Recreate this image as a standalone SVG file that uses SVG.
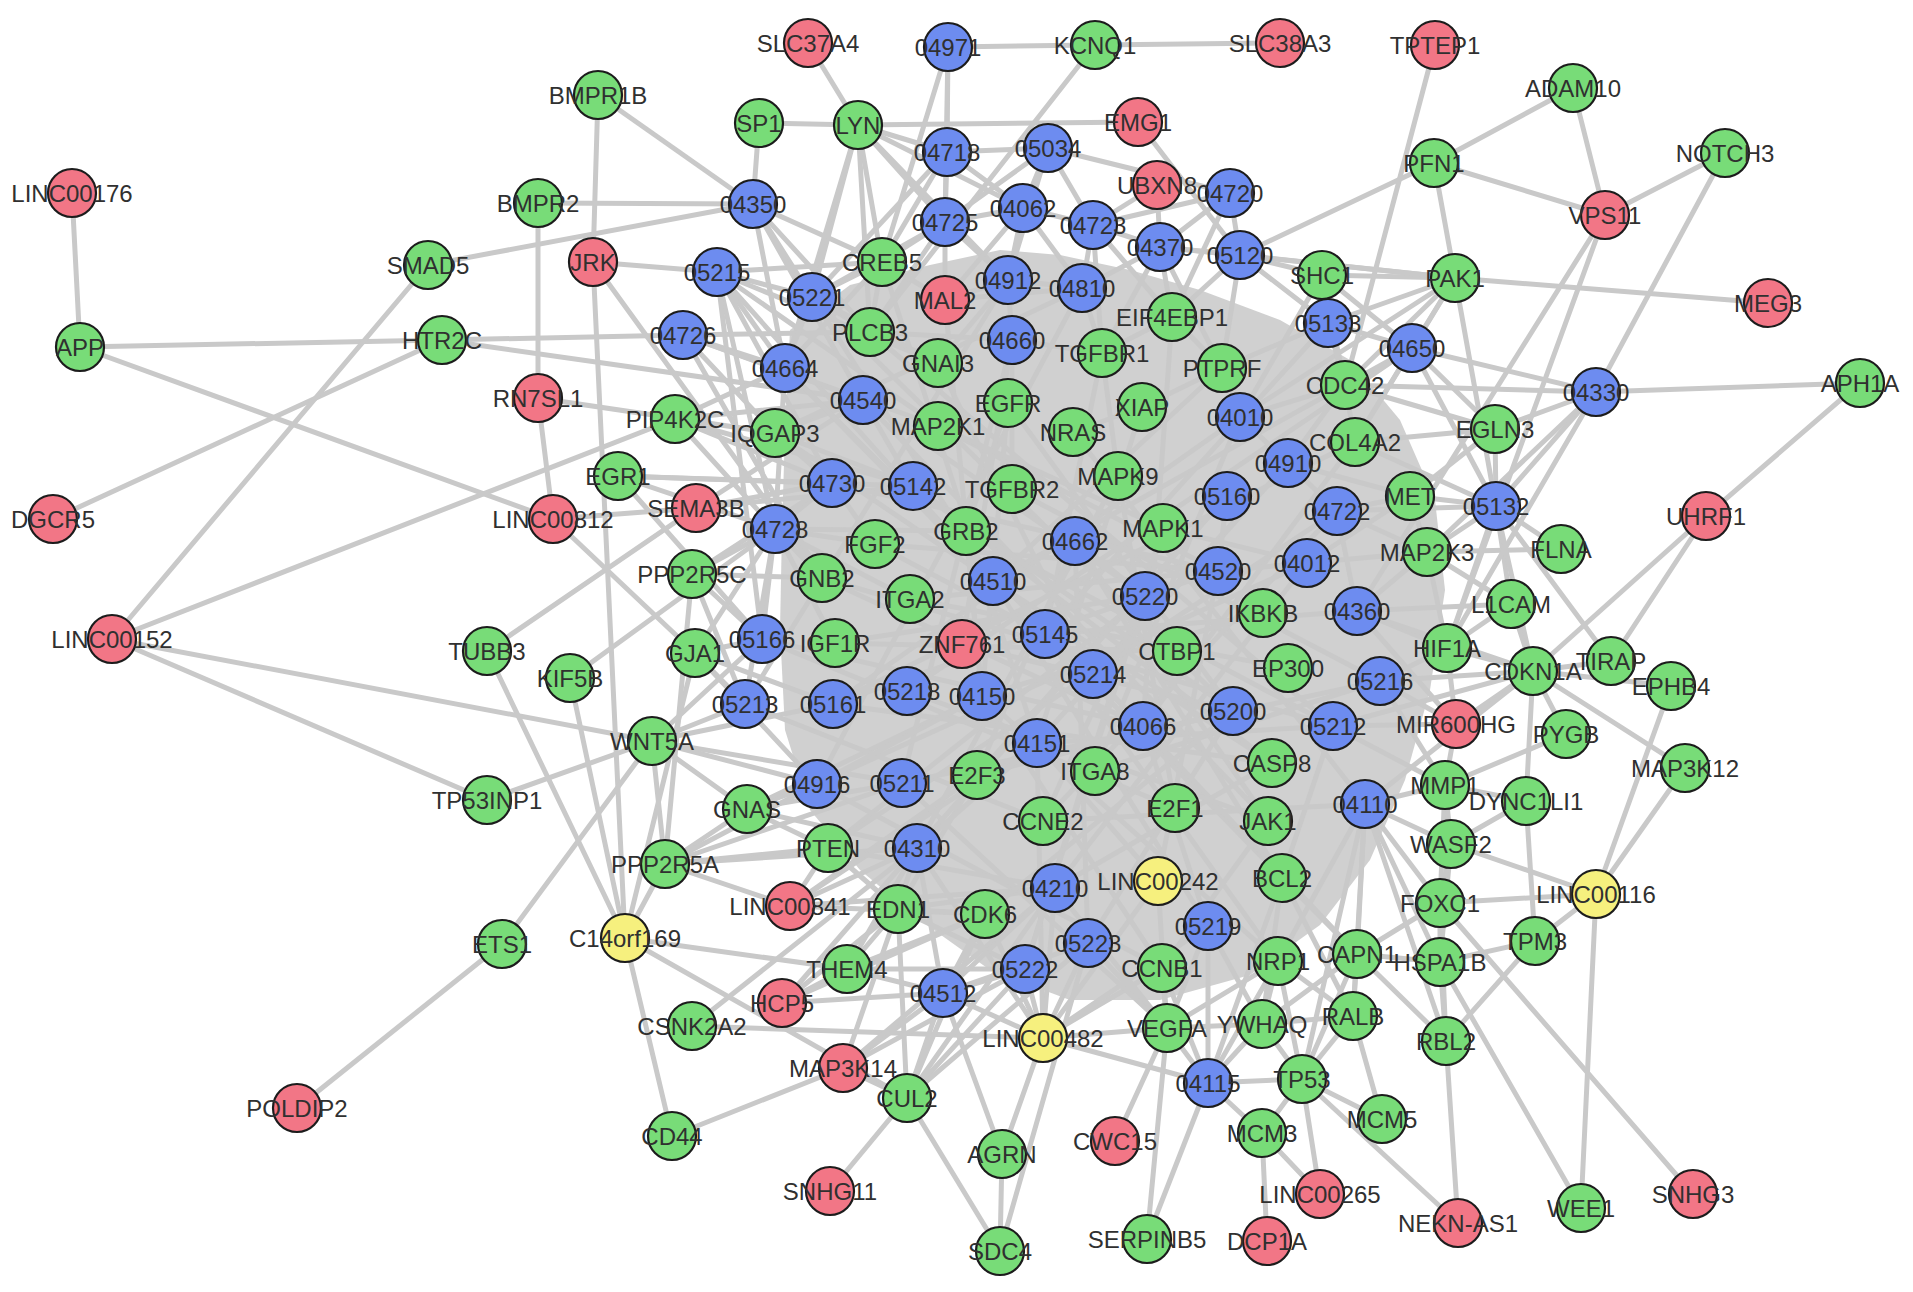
<svg xmlns="http://www.w3.org/2000/svg" width="1913" height="1292" viewBox="0 0 1913 1292">
<style>
.edges line{stroke:#c9c9c9;stroke-width:5;stroke-linecap:round}
.bundle{fill:#d0d0d0}
.node circle{stroke:#1c1c1c;stroke-width:2.2}
.r{fill:#f27686}.g{fill:#78dc78}.b{fill:#6d8cf0}.y{fill:#f6f07e}
.node text{font-family:"Liberation Sans",Arial,sans-serif;font-size:24px;fill:#303030;text-anchor:middle;dominant-baseline:central}
</style>
<rect width="1913" height="1292" fill="#ffffff"/>
<g id="connectors" class="edges">
<path class="bundle" d="M790,330 L850,285 L930,265 L1000,250 L1060,255 L1130,270 L1200,290 L1280,320 L1350,360 L1400,420 L1435,500 L1445,590 L1430,690 L1405,780 L1370,860 L1320,925 L1250,975 L1160,1000 L1070,1000 L990,970 L920,920 L860,870 L810,810 L785,730 L780,630 L782,530 L785,430 Z"/>
<line x1="72" y1="193" x2="80" y2="347"/>
<line x1="80" y1="347" x2="442" y2="340"/>
<line x1="80" y1="347" x2="553" y2="519"/>
<line x1="442" y1="340" x2="53" y2="519"/>
<line x1="442" y1="340" x2="683" y2="335"/>
<line x1="442" y1="340" x2="863" y2="400"/>
<line x1="428" y1="265" x2="753" y2="204"/>
<line x1="428" y1="265" x2="112" y2="639"/>
<line x1="112" y1="639" x2="675" y2="419"/>
<line x1="112" y1="639" x2="652" y2="741"/>
<line x1="112" y1="639" x2="487" y2="800"/>
<line x1="598" y1="95" x2="593" y2="262"/>
<line x1="598" y1="95" x2="753" y2="204"/>
<line x1="538" y1="203" x2="753" y2="204"/>
<line x1="538" y1="203" x2="538" y2="398"/>
<line x1="538" y1="398" x2="553" y2="519"/>
<line x1="538" y1="398" x2="775" y2="433"/>
<line x1="593" y1="262" x2="717" y2="272"/>
<line x1="593" y1="262" x2="822" y2="578"/>
<line x1="593" y1="262" x2="625" y2="938"/>
<line x1="808" y1="43" x2="858" y2="125"/>
<line x1="759" y1="123" x2="858" y2="125"/>
<line x1="759" y1="123" x2="753" y2="204"/>
<line x1="858" y1="125" x2="1138" y2="122"/>
<line x1="948" y1="47" x2="1095" y2="45"/>
<line x1="1095" y1="45" x2="1280" y2="43"/>
<line x1="1095" y1="45" x2="870" y2="332"/>
<line x1="948" y1="47" x2="947" y2="152"/>
<line x1="948" y1="47" x2="882" y2="262"/>
<line x1="948" y1="47" x2="945" y2="222"/>
<line x1="1138" y1="122" x2="1240" y2="255"/>
<line x1="1048" y1="148" x2="1230" y2="193"/>
<line x1="1435" y1="45" x2="1345" y2="385"/>
<line x1="1434" y1="163" x2="1573" y2="88"/>
<line x1="1434" y1="163" x2="1605" y2="215"/>
<line x1="1573" y1="88" x2="1605" y2="215"/>
<line x1="1605" y1="215" x2="1725" y2="153"/>
<line x1="1434" y1="163" x2="1455" y2="278"/>
<line x1="1240" y1="255" x2="1434" y2="163"/>
<line x1="1605" y1="215" x2="1357" y2="611"/>
<line x1="1605" y1="215" x2="1447" y2="648"/>
<line x1="1725" y1="153" x2="1596" y2="392"/>
<line x1="1596" y1="392" x2="1860" y2="383"/>
<line x1="1455" y1="278" x2="1768" y2="303"/>
<line x1="1455" y1="278" x2="1496" y2="506"/>
<line x1="1495" y1="429" x2="1596" y2="392"/>
<line x1="1860" y1="383" x2="1706" y2="516"/>
<line x1="1706" y1="516" x2="1533" y2="671"/>
<line x1="1706" y1="516" x2="1611" y2="661"/>
<line x1="1496" y1="506" x2="1561" y2="549"/>
<line x1="1561" y1="549" x2="1427" y2="552"/>
<line x1="1496" y1="506" x2="1611" y2="661"/>
<line x1="1496" y1="506" x2="1511" y2="604"/>
<line x1="1496" y1="506" x2="1447" y2="648"/>
<line x1="1496" y1="506" x2="1533" y2="671"/>
<line x1="1496" y1="506" x2="1427" y2="552"/>
<line x1="1496" y1="506" x2="1495" y2="429"/>
<line x1="1511" y1="604" x2="1447" y2="648"/>
<line x1="1511" y1="604" x2="1533" y2="671"/>
<line x1="1611" y1="661" x2="1533" y2="671"/>
<line x1="1671" y1="686" x2="1533" y2="671"/>
<line x1="1671" y1="686" x2="1596" y2="894"/>
<line x1="1685" y1="768" x2="1596" y2="894"/>
<line x1="1685" y1="768" x2="1533" y2="671"/>
<line x1="1566" y1="734" x2="1533" y2="671"/>
<line x1="1566" y1="734" x2="1445" y2="785"/>
<line x1="1526" y1="801" x2="1533" y2="671"/>
<line x1="1526" y1="801" x2="1445" y2="785"/>
<line x1="1526" y1="801" x2="1535" y2="941"/>
<line x1="1596" y1="894" x2="1451" y2="844"/>
<line x1="1596" y1="894" x2="1535" y2="941"/>
<line x1="1596" y1="894" x2="1581" y2="1208"/>
<line x1="1596" y1="894" x2="1440" y2="903"/>
<line x1="1535" y1="941" x2="1446" y2="1041"/>
<line x1="1535" y1="941" x2="1440" y2="962"/>
<line x1="1440" y1="903" x2="1693" y2="1194"/>
<line x1="1440" y1="962" x2="1581" y2="1208"/>
<line x1="1440" y1="962" x2="1446" y2="1041"/>
<line x1="1446" y1="1041" x2="1458" y2="1223"/>
<line x1="1302" y1="1079" x2="1458" y2="1223"/>
<line x1="1353" y1="1016" x2="1382" y2="1119"/>
<line x1="1302" y1="1079" x2="1382" y2="1119"/>
<line x1="1302" y1="1079" x2="1320" y2="1194"/>
<line x1="1302" y1="1079" x2="1262" y2="1133"/>
<line x1="1262" y1="1133" x2="1267" y2="1241"/>
<line x1="1262" y1="1133" x2="1320" y2="1194"/>
<line x1="1302" y1="1079" x2="1208" y2="1083"/>
<line x1="1208" y1="1083" x2="1147" y2="1239"/>
<line x1="1147" y1="1239" x2="1167" y2="1028"/>
<line x1="1115" y1="1141" x2="1167" y2="1028"/>
<line x1="1002" y1="1154" x2="1043" y2="1038"/>
<line x1="1002" y1="1154" x2="1000" y2="1251"/>
<line x1="1002" y1="1154" x2="943" y2="993"/>
<line x1="1000" y1="1251" x2="1088" y2="943"/>
<line x1="1000" y1="1251" x2="907" y2="1098"/>
<line x1="830" y1="1191" x2="907" y2="1098"/>
<line x1="672" y1="1136" x2="843" y2="1068"/>
<line x1="672" y1="1136" x2="625" y2="938"/>
<line x1="625" y1="938" x2="907" y2="1098"/>
<line x1="625" y1="938" x2="847" y2="969"/>
<line x1="625" y1="938" x2="665" y2="864"/>
<line x1="625" y1="938" x2="487" y2="651"/>
<line x1="625" y1="938" x2="570" y2="678"/>
<line x1="625" y1="938" x2="695" y2="653"/>
<line x1="502" y1="944" x2="652" y2="741"/>
<line x1="297" y1="1108" x2="502" y2="944"/>
<line x1="692" y1="1026" x2="1043" y2="1038"/>
<line x1="692" y1="1026" x2="917" y2="848"/>
<line x1="782" y1="1003" x2="847" y2="969"/>
<line x1="665" y1="864" x2="790" y2="906"/>
<line x1="898" y1="909" x2="907" y2="1098"/>
<line x1="847" y1="969" x2="943" y2="993"/>
<line x1="747" y1="809" x2="665" y2="864"/>
<line x1="652" y1="741" x2="665" y2="864"/>
<line x1="652" y1="741" x2="745" y2="704"/>
<line x1="652" y1="741" x2="817" y2="784"/>
<line x1="652" y1="741" x2="487" y2="800"/>
<line x1="487" y1="651" x2="696" y2="508"/>
<line x1="570" y1="678" x2="775" y2="529"/>
<line x1="692" y1="574" x2="665" y2="864"/>
<line x1="692" y1="574" x2="775" y2="529"/>
<line x1="553" y1="519" x2="695" y2="653"/>
<line x1="553" y1="519" x2="696" y2="508"/>
<line x1="618" y1="476" x2="775" y2="529"/>
<line x1="717" y1="272" x2="882" y2="262"/>
<line x1="843" y1="1068" x2="907" y2="1098"/>
<line x1="753" y1="204" x2="882" y2="262"/>
<line x1="753" y1="204" x2="812" y2="297"/>
<line x1="753" y1="204" x2="785" y2="368"/>
<line x1="753" y1="204" x2="870" y2="332"/>
<line x1="753" y1="204" x2="863" y2="400"/>
<line x1="858" y1="125" x2="947" y2="152"/>
<line x1="858" y1="125" x2="945" y2="222"/>
<line x1="858" y1="125" x2="812" y2="297"/>
<line x1="858" y1="125" x2="882" y2="262"/>
<line x1="858" y1="125" x2="785" y2="368"/>
<line x1="858" y1="125" x2="1023" y2="208"/>
<line x1="858" y1="125" x2="870" y2="332"/>
<line x1="858" y1="125" x2="1008" y2="280"/>
<line x1="717" y1="272" x2="812" y2="297"/>
<line x1="717" y1="272" x2="785" y2="368"/>
<line x1="717" y1="272" x2="832" y2="483"/>
<line x1="717" y1="272" x2="775" y2="529"/>
<line x1="717" y1="272" x2="762" y2="639"/>
<line x1="717" y1="272" x2="938" y2="426"/>
<line x1="717" y1="272" x2="938" y2="363"/>
<line x1="717" y1="272" x2="993" y2="581"/>
<line x1="683" y1="335" x2="785" y2="368"/>
<line x1="683" y1="335" x2="775" y2="433"/>
<line x1="683" y1="335" x2="870" y2="332"/>
<line x1="683" y1="335" x2="863" y2="400"/>
<line x1="683" y1="335" x2="938" y2="426"/>
<line x1="683" y1="335" x2="822" y2="578"/>
<line x1="675" y1="419" x2="785" y2="368"/>
<line x1="675" y1="419" x2="863" y2="400"/>
<line x1="675" y1="419" x2="832" y2="483"/>
<line x1="675" y1="419" x2="913" y2="486"/>
<line x1="675" y1="419" x2="775" y2="529"/>
<line x1="775" y1="433" x2="832" y2="483"/>
<line x1="775" y1="433" x2="913" y2="486"/>
<line x1="775" y1="433" x2="863" y2="400"/>
<line x1="775" y1="433" x2="993" y2="581"/>
<line x1="775" y1="433" x2="1082" y2="288"/>
<line x1="618" y1="476" x2="832" y2="483"/>
<line x1="618" y1="476" x2="913" y2="486"/>
<line x1="618" y1="476" x2="762" y2="639"/>
<line x1="696" y1="508" x2="832" y2="483"/>
<line x1="696" y1="508" x2="913" y2="486"/>
<line x1="696" y1="508" x2="863" y2="400"/>
<line x1="775" y1="529" x2="875" y2="544"/>
<line x1="775" y1="529" x2="822" y2="578"/>
<line x1="775" y1="529" x2="695" y2="653"/>
<line x1="775" y1="529" x2="762" y2="639"/>
<line x1="775" y1="529" x2="745" y2="704"/>
<line x1="775" y1="529" x2="835" y2="643"/>
<line x1="775" y1="529" x2="910" y2="599"/>
<line x1="775" y1="529" x2="966" y2="531"/>
<line x1="775" y1="529" x2="832" y2="483"/>
<line x1="775" y1="529" x2="785" y2="368"/>
<line x1="692" y1="574" x2="762" y2="639"/>
<line x1="692" y1="574" x2="745" y2="704"/>
<line x1="692" y1="574" x2="822" y2="578"/>
<line x1="692" y1="574" x2="832" y2="483"/>
<line x1="695" y1="653" x2="762" y2="639"/>
<line x1="695" y1="653" x2="745" y2="704"/>
<line x1="695" y1="653" x2="817" y2="784"/>
<line x1="695" y1="653" x2="833" y2="704"/>
<line x1="652" y1="741" x2="762" y2="639"/>
<line x1="652" y1="741" x2="747" y2="809"/>
<line x1="652" y1="741" x2="833" y2="704"/>
<line x1="652" y1="741" x2="902" y2="783"/>
<line x1="747" y1="809" x2="817" y2="784"/>
<line x1="747" y1="809" x2="902" y2="783"/>
<line x1="747" y1="809" x2="917" y2="848"/>
<line x1="747" y1="809" x2="828" y2="848"/>
<line x1="747" y1="809" x2="982" y2="696"/>
<line x1="665" y1="864" x2="817" y2="784"/>
<line x1="665" y1="864" x2="828" y2="848"/>
<line x1="665" y1="864" x2="917" y2="848"/>
<line x1="665" y1="864" x2="902" y2="783"/>
<line x1="790" y1="906" x2="917" y2="848"/>
<line x1="790" y1="906" x2="828" y2="848"/>
<line x1="790" y1="906" x2="985" y2="914"/>
<line x1="790" y1="906" x2="1055" y2="888"/>
<line x1="790" y1="906" x2="977" y2="775"/>
<line x1="790" y1="906" x2="1037" y2="743"/>
<line x1="898" y1="909" x2="917" y2="848"/>
<line x1="898" y1="909" x2="985" y2="914"/>
<line x1="898" y1="909" x2="1055" y2="888"/>
<line x1="898" y1="909" x2="1025" y2="969"/>
<line x1="898" y1="909" x2="977" y2="775"/>
<line x1="898" y1="909" x2="828" y2="848"/>
<line x1="847" y1="969" x2="898" y2="909"/>
<line x1="847" y1="969" x2="1025" y2="969"/>
<line x1="847" y1="969" x2="985" y2="914"/>
<line x1="847" y1="969" x2="917" y2="848"/>
<line x1="782" y1="1003" x2="917" y2="848"/>
<line x1="782" y1="1003" x2="898" y2="909"/>
<line x1="782" y1="1003" x2="943" y2="993"/>
<line x1="782" y1="1003" x2="985" y2="914"/>
<line x1="843" y1="1068" x2="943" y2="993"/>
<line x1="843" y1="1068" x2="1025" y2="969"/>
<line x1="843" y1="1068" x2="898" y2="909"/>
<line x1="843" y1="1068" x2="1055" y2="888"/>
<line x1="907" y1="1098" x2="943" y2="993"/>
<line x1="907" y1="1098" x2="1025" y2="969"/>
<line x1="907" y1="1098" x2="1055" y2="888"/>
<line x1="907" y1="1098" x2="1088" y2="943"/>
<line x1="907" y1="1098" x2="985" y2="914"/>
<line x1="943" y1="993" x2="985" y2="914"/>
<line x1="943" y1="993" x2="1025" y2="969"/>
<line x1="943" y1="993" x2="1088" y2="943"/>
<line x1="943" y1="993" x2="1055" y2="888"/>
<line x1="943" y1="993" x2="917" y2="848"/>
<line x1="943" y1="993" x2="1043" y2="1038"/>
<line x1="1043" y1="1038" x2="1025" y2="969"/>
<line x1="1043" y1="1038" x2="1088" y2="943"/>
<line x1="1043" y1="1038" x2="1055" y2="888"/>
<line x1="1043" y1="1038" x2="1162" y2="968"/>
<line x1="1043" y1="1038" x2="1167" y2="1028"/>
<line x1="1043" y1="1038" x2="1208" y2="926"/>
<line x1="1043" y1="1038" x2="1158" y2="881"/>
<line x1="1043" y1="1038" x2="1208" y2="1083"/>
<line x1="1043" y1="1038" x2="985" y2="914"/>
<line x1="1043" y1="1038" x2="917" y2="848"/>
<line x1="1043" y1="1038" x2="1037" y2="743"/>
<line x1="1208" y1="1083" x2="1167" y2="1028"/>
<line x1="1208" y1="1083" x2="1162" y2="968"/>
<line x1="1208" y1="1083" x2="1208" y2="926"/>
<line x1="1208" y1="1083" x2="1262" y2="1024"/>
<line x1="1208" y1="1083" x2="1278" y2="961"/>
<line x1="1208" y1="1083" x2="1282" y2="878"/>
<line x1="1208" y1="1083" x2="1262" y2="1133"/>
<line x1="1167" y1="1028" x2="1208" y2="926"/>
<line x1="1167" y1="1028" x2="1162" y2="968"/>
<line x1="1167" y1="1028" x2="1088" y2="943"/>
<line x1="1167" y1="1028" x2="1278" y2="961"/>
<line x1="1167" y1="1028" x2="1262" y2="1024"/>
<line x1="1167" y1="1028" x2="1055" y2="888"/>
<line x1="1167" y1="1028" x2="1158" y2="881"/>
<line x1="1262" y1="1024" x2="1208" y2="926"/>
<line x1="1262" y1="1024" x2="1278" y2="961"/>
<line x1="1262" y1="1024" x2="1282" y2="878"/>
<line x1="1262" y1="1024" x2="1357" y2="954"/>
<line x1="1262" y1="1024" x2="1353" y2="1016"/>
<line x1="1262" y1="1024" x2="1302" y2="1079"/>
<line x1="1353" y1="1016" x2="1357" y2="954"/>
<line x1="1353" y1="1016" x2="1278" y2="961"/>
<line x1="1353" y1="1016" x2="1282" y2="878"/>
<line x1="1353" y1="1016" x2="1365" y2="804"/>
<line x1="1302" y1="1079" x2="1278" y2="961"/>
<line x1="1302" y1="1079" x2="1353" y2="1016"/>
<line x1="1302" y1="1079" x2="1357" y2="954"/>
<line x1="1302" y1="1079" x2="1365" y2="804"/>
<line x1="1357" y1="954" x2="1365" y2="804"/>
<line x1="1357" y1="954" x2="1440" y2="962"/>
<line x1="1357" y1="954" x2="1282" y2="878"/>
<line x1="1357" y1="954" x2="1440" y2="903"/>
<line x1="1440" y1="962" x2="1440" y2="903"/>
<line x1="1440" y1="962" x2="1365" y2="804"/>
<line x1="1440" y1="962" x2="1451" y2="844"/>
<line x1="1446" y1="1041" x2="1357" y2="954"/>
<line x1="1446" y1="1041" x2="1440" y2="903"/>
<line x1="1446" y1="1041" x2="1365" y2="804"/>
<line x1="1440" y1="903" x2="1451" y2="844"/>
<line x1="1440" y1="903" x2="1365" y2="804"/>
<line x1="1440" y1="903" x2="1445" y2="785"/>
<line x1="1451" y1="844" x2="1445" y2="785"/>
<line x1="1451" y1="844" x2="1365" y2="804"/>
<line x1="1451" y1="844" x2="1526" y2="801"/>
<line x1="1445" y1="785" x2="1365" y2="804"/>
<line x1="1445" y1="785" x2="1333" y2="726"/>
<line x1="1445" y1="785" x2="1456" y2="724"/>
<line x1="1445" y1="785" x2="1380" y2="681"/>
<line x1="1456" y1="724" x2="1380" y2="681"/>
<line x1="1456" y1="724" x2="1333" y2="726"/>
<line x1="1456" y1="724" x2="1357" y2="611"/>
<line x1="1456" y1="724" x2="1447" y2="648"/>
<line x1="1456" y1="724" x2="1533" y2="671"/>
<line x1="1447" y1="648" x2="1357" y2="611"/>
<line x1="1447" y1="648" x2="1380" y2="681"/>
<line x1="1447" y1="648" x2="1427" y2="552"/>
<line x1="1447" y1="648" x2="1533" y2="671"/>
<line x1="1533" y1="671" x2="1380" y2="681"/>
<line x1="1533" y1="671" x2="1357" y2="611"/>
<line x1="1533" y1="671" x2="1365" y2="804"/>
<line x1="1533" y1="671" x2="1333" y2="726"/>
<line x1="1511" y1="604" x2="1357" y2="611"/>
<line x1="1511" y1="604" x2="1427" y2="552"/>
<line x1="1427" y1="552" x2="1337" y2="511"/>
<line x1="1427" y1="552" x2="1357" y2="611"/>
<line x1="1427" y1="552" x2="1307" y2="563"/>
<line x1="1427" y1="552" x2="1410" y2="496"/>
<line x1="1410" y1="496" x2="1337" y2="511"/>
<line x1="1410" y1="496" x2="1288" y2="463"/>
<line x1="1410" y1="496" x2="1496" y2="506"/>
<line x1="1410" y1="496" x2="1307" y2="563"/>
<line x1="1496" y1="506" x2="1337" y2="511"/>
<line x1="1496" y1="506" x2="1412" y2="348"/>
<line x1="1496" y1="506" x2="1355" y2="442"/>
<line x1="1495" y1="429" x2="1412" y2="348"/>
<line x1="1495" y1="429" x2="1355" y2="442"/>
<line x1="1495" y1="429" x2="1410" y2="496"/>
<line x1="1495" y1="429" x2="1345" y2="385"/>
<line x1="1596" y1="392" x2="1412" y2="348"/>
<line x1="1596" y1="392" x2="1496" y2="506"/>
<line x1="1596" y1="392" x2="1447" y2="648"/>
<line x1="1596" y1="392" x2="1427" y2="552"/>
<line x1="1596" y1="392" x2="1345" y2="385"/>
<line x1="1455" y1="278" x2="1412" y2="348"/>
<line x1="1455" y1="278" x2="1328" y2="323"/>
<line x1="1455" y1="278" x2="1345" y2="385"/>
<line x1="1455" y1="278" x2="1240" y2="255"/>
<line x1="1455" y1="278" x2="1322" y2="275"/>
<line x1="1455" y1="278" x2="1355" y2="442"/>
<line x1="1455" y1="278" x2="1240" y2="417"/>
<line x1="1455" y1="278" x2="1160" y2="247"/>
<line x1="1322" y1="275" x2="1240" y2="255"/>
<line x1="1322" y1="275" x2="1328" y2="323"/>
<line x1="1322" y1="275" x2="1412" y2="348"/>
<line x1="1322" y1="275" x2="1345" y2="385"/>
<line x1="1322" y1="275" x2="1240" y2="417"/>
<line x1="1240" y1="255" x2="1160" y2="247"/>
<line x1="1240" y1="255" x2="1328" y2="323"/>
<line x1="1240" y1="255" x2="1222" y2="368"/>
<line x1="1240" y1="255" x2="1230" y2="193"/>
<line x1="1240" y1="255" x2="1172" y2="317"/>
<line x1="1230" y1="193" x2="1160" y2="247"/>
<line x1="1230" y1="193" x2="1093" y2="225"/>
<line x1="1230" y1="193" x2="1172" y2="317"/>
<line x1="1157" y1="185" x2="1160" y2="247"/>
<line x1="1157" y1="185" x2="1093" y2="225"/>
<line x1="1048" y1="148" x2="1023" y2="208"/>
<line x1="1048" y1="148" x2="1093" y2="225"/>
<line x1="1048" y1="148" x2="945" y2="222"/>
<line x1="1048" y1="148" x2="947" y2="152"/>
<line x1="1048" y1="148" x2="1008" y2="280"/>
<line x1="947" y1="152" x2="945" y2="222"/>
<line x1="947" y1="152" x2="1023" y2="208"/>
<line x1="947" y1="152" x2="882" y2="262"/>
<line x1="947" y1="152" x2="812" y2="297"/>
<line x1="945" y1="222" x2="1008" y2="280"/>
<line x1="945" y1="222" x2="882" y2="262"/>
<line x1="945" y1="222" x2="812" y2="297"/>
<line x1="945" y1="222" x2="945" y2="300"/>
<line x1="945" y1="222" x2="1023" y2="208"/>
<line x1="945" y1="222" x2="870" y2="332"/>
<line x1="1023" y1="208" x2="1008" y2="280"/>
<line x1="1023" y1="208" x2="1093" y2="225"/>
<line x1="1023" y1="208" x2="1082" y2="288"/>
<line x1="1023" y1="208" x2="945" y2="300"/>
<line x1="1093" y1="225" x2="1160" y2="247"/>
<line x1="1093" y1="225" x2="1082" y2="288"/>
<line x1="1093" y1="225" x2="1102" y2="353"/>
<line x1="1093" y1="225" x2="1172" y2="317"/>
<line x1="1160" y1="247" x2="1172" y2="317"/>
<line x1="1160" y1="247" x2="1082" y2="288"/>
<line x1="1160" y1="247" x2="1102" y2="353"/>
<line x1="1160" y1="247" x2="1222" y2="368"/>
<line x1="882" y1="262" x2="812" y2="297"/>
<line x1="882" y1="262" x2="870" y2="332"/>
<line x1="882" y1="262" x2="945" y2="300"/>
<line x1="882" y1="262" x2="785" y2="368"/>
<line x1="812" y1="297" x2="785" y2="368"/>
<line x1="812" y1="297" x2="870" y2="332"/>
<line x1="812" y1="297" x2="938" y2="363"/>
<line x1="1008" y1="280" x2="1082" y2="288"/>
<line x1="1082" y1="288" x2="1102" y2="353"/>
<line x1="1012" y1="340" x2="1102" y2="353"/>
<line x1="1008" y1="280" x2="1012" y2="340"/>
<line x1="945" y1="300" x2="1008" y2="280"/>
<line x1="1172" y1="317" x2="1102" y2="353"/>
<line x1="1222" y1="368" x2="1172" y2="317"/>
<line x1="1328" y1="323" x2="1222" y2="368"/>
<line x1="1328" y1="323" x2="1345" y2="385"/>
<line x1="1412" y1="348" x2="1345" y2="385"/>
<line x1="1412" y1="348" x2="1328" y2="323"/>
<line x1="1142" y1="407" x2="1222" y2="368"/>
<line x1="1240" y1="417" x2="1222" y2="368"/>
<line x1="1240" y1="417" x2="1345" y2="385"/>
<line x1="1355" y1="442" x2="1345" y2="385"/>
<line x1="1355" y1="442" x2="1412" y2="348"/>
<line x1="945" y1="300" x2="1082" y2="288"/>
<line x1="870" y1="332" x2="1012" y2="340"/>
<line x1="938" y1="363" x2="1008" y2="280"/>
<line x1="812" y1="297" x2="993" y2="581"/>
<line x1="812" y1="297" x2="1233" y2="711"/>
<line x1="882" y1="262" x2="1037" y2="743"/>
<line x1="870" y1="332" x2="1333" y2="726"/>
<line x1="785" y1="368" x2="1143" y2="726"/>
<line x1="945" y1="300" x2="982" y2="696"/>
<line x1="1008" y1="280" x2="745" y2="704"/>
<line x1="1082" y1="288" x2="817" y2="784"/>
<line x1="1012" y1="340" x2="902" y2="783"/>
<line x1="1008" y1="403" x2="1233" y2="711"/>
<line x1="1102" y1="353" x2="1045" y2="634"/>
<line x1="1073" y1="432" x2="1365" y2="804"/>
<line x1="1142" y1="407" x2="1037" y2="743"/>
<line x1="1240" y1="417" x2="833" y2="704"/>
<line x1="1345" y1="385" x2="993" y2="581"/>
<line x1="1355" y1="442" x2="1143" y2="726"/>
<line x1="1288" y1="463" x2="1093" y2="674"/>
<line x1="1012" y1="489" x2="1380" y2="681"/>
<line x1="1118" y1="476" x2="917" y2="848"/>
<line x1="1227" y1="496" x2="977" y2="775"/>
<line x1="1337" y1="511" x2="1043" y2="821"/>
<line x1="1163" y1="528" x2="1025" y2="969"/>
<line x1="966" y1="531" x2="1333" y2="726"/>
<line x1="875" y1="544" x2="1218" y2="571"/>
<line x1="1075" y1="541" x2="1268" y2="821"/>
<line x1="1307" y1="563" x2="817" y2="784"/>
<line x1="1218" y1="571" x2="833" y2="704"/>
<line x1="993" y1="581" x2="1272" y2="763"/>
<line x1="1145" y1="596" x2="828" y2="848"/>
<line x1="1263" y1="613" x2="982" y2="696"/>
<line x1="1357" y1="611" x2="1045" y2="634"/>
<line x1="1045" y1="634" x2="1282" y2="878"/>
<line x1="1177" y1="651" x2="835" y2="643"/>
<line x1="1288" y1="668" x2="910" y2="599"/>
<line x1="1380" y1="681" x2="1095" y2="771"/>
<line x1="1093" y1="674" x2="1357" y2="954"/>
<line x1="982" y1="696" x2="1278" y2="961"/>
<line x1="1233" y1="711" x2="977" y2="775"/>
<line x1="1143" y1="726" x2="822" y2="578"/>
<line x1="1333" y1="726" x2="1037" y2="743"/>
<line x1="1037" y1="743" x2="1158" y2="881"/>
<line x1="817" y1="784" x2="1162" y2="968"/>
<line x1="902" y1="783" x2="1167" y2="1028"/>
<line x1="1365" y1="804" x2="1043" y2="821"/>
<line x1="1175" y1="808" x2="762" y2="639"/>
<line x1="1043" y1="821" x2="1145" y2="596"/>
<line x1="1268" y1="821" x2="863" y2="400"/>
<line x1="828" y1="848" x2="1337" y2="511"/>
<line x1="917" y1="848" x2="1227" y2="496"/>
<line x1="1055" y1="888" x2="1307" y2="563"/>
<line x1="1208" y1="926" x2="993" y2="581"/>
<line x1="1088" y1="943" x2="1075" y2="541"/>
<line x1="1025" y1="969" x2="1145" y2="596"/>
<line x1="985" y1="914" x2="1233" y2="711"/>
<line x1="1158" y1="881" x2="1218" y2="571"/>
<line x1="1282" y1="878" x2="1075" y2="541"/>
<line x1="1278" y1="961" x2="1045" y2="634"/>
<line x1="1162" y1="968" x2="982" y2="696"/>
<line x1="962" y1="644" x2="1233" y2="711"/>
<line x1="962" y1="644" x2="1012" y2="340"/>
<line x1="1095" y1="771" x2="1240" y2="417"/>
<line x1="977" y1="775" x2="1075" y2="541"/>
<line x1="1272" y1="763" x2="913" y2="486"/>
<line x1="1268" y1="821" x2="907" y2="691"/>
<line x1="938" y1="363" x2="1093" y2="674"/>
<line x1="938" y1="426" x2="1218" y2="571"/>
<line x1="1008" y1="403" x2="982" y2="696"/>
<line x1="1222" y1="368" x2="993" y2="581"/>
<line x1="1172" y1="317" x2="1143" y2="726"/>
<line x1="1328" y1="323" x2="1045" y2="634"/>
<line x1="1412" y1="348" x2="907" y2="691"/>
<line x1="1355" y1="442" x2="833" y2="704"/>
<line x1="1288" y1="463" x2="1037" y2="743"/>
<line x1="1118" y1="476" x2="1175" y2="808"/>
<line x1="832" y1="483" x2="1218" y2="571"/>
<line x1="913" y1="486" x2="1233" y2="711"/>
<line x1="863" y1="400" x2="1145" y2="596"/>
<line x1="785" y1="368" x2="993" y2="581"/>
<line x1="822" y1="578" x2="1333" y2="726"/>
<line x1="835" y1="643" x2="1145" y2="596"/>
<line x1="762" y1="639" x2="1143" y2="726"/>
<line x1="745" y1="704" x2="1043" y2="821"/>
<line x1="833" y1="704" x2="1272" y2="763"/>
<line x1="817" y1="784" x2="982" y2="696"/>
<line x1="902" y1="783" x2="1380" y2="681"/>
<line x1="917" y1="848" x2="1037" y2="743"/>
<line x1="828" y1="848" x2="1055" y2="888"/>
<line x1="1055" y1="888" x2="1272" y2="763"/>
<line x1="1208" y1="926" x2="1143" y2="726"/>
<line x1="1088" y1="943" x2="1233" y2="711"/>
<line x1="1162" y1="968" x2="1268" y2="821"/>
<line x1="1282" y1="878" x2="1333" y2="726"/>
<line x1="1278" y1="961" x2="1365" y2="804"/>
<line x1="910" y1="599" x2="1307" y2="563"/>
<line x1="875" y1="544" x2="1045" y2="634"/>
<line x1="966" y1="531" x2="982" y2="696"/>
<line x1="1075" y1="541" x2="1145" y2="596"/>
<line x1="1163" y1="528" x2="1307" y2="563"/>
<line x1="1337" y1="511" x2="1357" y2="611"/>
<line x1="1288" y1="463" x2="1337" y2="511"/>
<line x1="1227" y1="496" x2="1218" y2="571"/>
<line x1="1240" y1="417" x2="1288" y2="463"/>
<line x1="1345" y1="385" x2="1288" y2="463"/>
<line x1="1142" y1="407" x2="1073" y2="432"/>
<line x1="1102" y1="353" x2="1118" y2="476"/>
<line x1="1012" y1="340" x2="1012" y2="489"/>
<line x1="1008" y1="403" x2="966" y2="531"/>
<line x1="938" y1="426" x2="1163" y2="528"/>
<line x1="863" y1="400" x2="913" y2="486"/>
<line x1="832" y1="483" x2="875" y2="544"/>
</g>
<g id="nodes">
<g id="n-SLC37A4" class="node"><circle class="r" cx="808" cy="43" r="24"/><text x="808" y="43">SLC37A4</text></g>
<g id="n-SLC38A3" class="node"><circle class="r" cx="1280" cy="43" r="24"/><text x="1280" y="43">SLC38A3</text></g>
<g id="n-TPTEP1" class="node"><circle class="r" cx="1435" cy="45" r="24"/><text x="1435" y="45">TPTEP1</text></g>
<g id="n-EMG1" class="node"><circle class="r" cx="1138" cy="122" r="24"/><text x="1138" y="122">EMG1</text></g>
<g id="n-UBXN8" class="node"><circle class="r" cx="1157" cy="185" r="24"/><text x="1157" y="185">UBXN8</text></g>
<g id="n-VPS11" class="node"><circle class="r" cx="1605" cy="215" r="24"/><text x="1605" y="215">VPS11</text></g>
<g id="n-LINC00176" class="node"><circle class="r" cx="72" cy="193" r="24"/><text x="72" y="193">LINC00176</text></g>
<g id="n-JRK" class="node"><circle class="r" cx="593" cy="262" r="24"/><text x="593" y="262">JRK</text></g>
<g id="n-MAL2" class="node"><circle class="r" cx="945" cy="300" r="24"/><text x="945" y="300">MAL2</text></g>
<g id="n-MEG3" class="node"><circle class="r" cx="1768" cy="303" r="24"/><text x="1768" y="303">MEG3</text></g>
<g id="n-RN7SL1" class="node"><circle class="r" cx="538" cy="398" r="24"/><text x="538" y="398">RN7SL1</text></g>
<g id="n-DGCR5" class="node"><circle class="r" cx="53" cy="519" r="24"/><text x="53" y="519">DGCR5</text></g>
<g id="n-LINC00812" class="node"><circle class="r" cx="553" cy="519" r="24"/><text x="553" y="519">LINC00812</text></g>
<g id="n-SEMA3B" class="node"><circle class="r" cx="696" cy="508" r="24"/><text x="696" y="508">SEMA3B</text></g>
<g id="n-UHRF1" class="node"><circle class="r" cx="1706" cy="516" r="24"/><text x="1706" y="516">UHRF1</text></g>
<g id="n-LINC00152" class="node"><circle class="r" cx="112" cy="639" r="24"/><text x="112" y="639">LINC00152</text></g>
<g id="n-ZNF761" class="node"><circle class="r" cx="962" cy="644" r="24"/><text x="962" y="644">ZNF761</text></g>
<g id="n-MIR600HG" class="node"><circle class="r" cx="1456" cy="724" r="24"/><text x="1456" y="724">MIR600HG</text></g>
<g id="n-LINC00841" class="node"><circle class="r" cx="790" cy="906" r="24"/><text x="790" y="906">LINC00841</text></g>
<g id="n-HCP5" class="node"><circle class="r" cx="782" cy="1003" r="24"/><text x="782" y="1003">HCP5</text></g>
<g id="n-MAP3K14" class="node"><circle class="r" cx="843" cy="1068" r="24"/><text x="843" y="1068">MAP3K14</text></g>
<g id="n-POLDIP2" class="node"><circle class="r" cx="297" cy="1108" r="24"/><text x="297" y="1108">POLDIP2</text></g>
<g id="n-CWC15" class="node"><circle class="r" cx="1115" cy="1141" r="24"/><text x="1115" y="1141">CWC15</text></g>
<g id="n-SNHG11" class="node"><circle class="r" cx="830" cy="1191" r="24"/><text x="830" y="1191">SNHG11</text></g>
<g id="n-LINC00265" class="node"><circle class="r" cx="1320" cy="1194" r="24"/><text x="1320" y="1194">LINC00265</text></g>
<g id="n-SNHG3" class="node"><circle class="r" cx="1693" cy="1194" r="24"/><text x="1693" y="1194">SNHG3</text></g>
<g id="n-NEKN-AS1" class="node"><circle class="r" cx="1458" cy="1223" r="24"/><text x="1458" y="1223">NEKN-AS1</text></g>
<g id="n-DCP1A" class="node"><circle class="r" cx="1267" cy="1241" r="24"/><text x="1267" y="1241">DCP1A</text></g>
<g id="n-LINC00242" class="node"><circle class="y" cx="1158" cy="881" r="24"/><text x="1158" y="881">LINC00242</text></g>
<g id="n-LINC00116" class="node"><circle class="y" cx="1596" cy="894" r="24"/><text x="1596" y="894">LINC00116</text></g>
<g id="n-C14orf169" class="node"><circle class="y" cx="625" cy="938" r="24"/><text x="625" y="938">C14orf169</text></g>
<g id="n-LINC00482" class="node"><circle class="y" cx="1043" cy="1038" r="24"/><text x="1043" y="1038">LINC00482</text></g>
<g id="n-04971" class="node"><circle class="b" cx="948" cy="47" r="24"/><text x="948" y="47">04971</text></g>
<g id="n-04718" class="node"><circle class="b" cx="947" cy="152" r="24"/><text x="947" y="152">04718</text></g>
<g id="n-05034" class="node"><circle class="b" cx="1048" cy="148" r="24"/><text x="1048" y="148">05034</text></g>
<g id="n-04720" class="node"><circle class="b" cx="1230" cy="193" r="24"/><text x="1230" y="193">04720</text></g>
<g id="n-04350" class="node"><circle class="b" cx="753" cy="204" r="24"/><text x="753" y="204">04350</text></g>
<g id="n-04725" class="node"><circle class="b" cx="945" cy="222" r="24"/><text x="945" y="222">04725</text></g>
<g id="n-04062" class="node"><circle class="b" cx="1023" cy="208" r="24"/><text x="1023" y="208">04062</text></g>
<g id="n-04723" class="node"><circle class="b" cx="1093" cy="225" r="24"/><text x="1093" y="225">04723</text></g>
<g id="n-04370" class="node"><circle class="b" cx="1160" cy="247" r="24"/><text x="1160" y="247">04370</text></g>
<g id="n-05120" class="node"><circle class="b" cx="1240" cy="255" r="24"/><text x="1240" y="255">05120</text></g>
<g id="n-05215" class="node"><circle class="b" cx="717" cy="272" r="24"/><text x="717" y="272">05215</text></g>
<g id="n-05221" class="node"><circle class="b" cx="812" cy="297" r="24"/><text x="812" y="297">05221</text></g>
<g id="n-04912" class="node"><circle class="b" cx="1008" cy="280" r="24"/><text x="1008" y="280">04912</text></g>
<g id="n-04810" class="node"><circle class="b" cx="1082" cy="288" r="24"/><text x="1082" y="288">04810</text></g>
<g id="n-05133" class="node"><circle class="b" cx="1328" cy="323" r="24"/><text x="1328" y="323">05133</text></g>
<g id="n-04726" class="node"><circle class="b" cx="683" cy="335" r="24"/><text x="683" y="335">04726</text></g>
<g id="n-04660" class="node"><circle class="b" cx="1012" cy="340" r="24"/><text x="1012" y="340">04660</text></g>
<g id="n-04650" class="node"><circle class="b" cx="1412" cy="348" r="24"/><text x="1412" y="348">04650</text></g>
<g id="n-04664" class="node"><circle class="b" cx="785" cy="368" r="24"/><text x="785" y="368">04664</text></g>
<g id="n-04330" class="node"><circle class="b" cx="1596" cy="392" r="24"/><text x="1596" y="392">04330</text></g>
<g id="n-04540" class="node"><circle class="b" cx="863" cy="400" r="24"/><text x="863" y="400">04540</text></g>
<g id="n-04010" class="node"><circle class="b" cx="1240" cy="417" r="24"/><text x="1240" y="417">04010</text></g>
<g id="n-04910" class="node"><circle class="b" cx="1288" cy="463" r="24"/><text x="1288" y="463">04910</text></g>
<g id="n-04730" class="node"><circle class="b" cx="832" cy="483" r="24"/><text x="832" y="483">04730</text></g>
<g id="n-05142" class="node"><circle class="b" cx="913" cy="486" r="24"/><text x="913" y="486">05142</text></g>
<g id="n-05160" class="node"><circle class="b" cx="1227" cy="496" r="24"/><text x="1227" y="496">05160</text></g>
<g id="n-05132" class="node"><circle class="b" cx="1496" cy="506" r="24"/><text x="1496" y="506">05132</text></g>
<g id="n-04722" class="node"><circle class="b" cx="1337" cy="511" r="24"/><text x="1337" y="511">04722</text></g>
<g id="n-04728" class="node"><circle class="b" cx="775" cy="529" r="24"/><text x="775" y="529">04728</text></g>
<g id="n-04662" class="node"><circle class="b" cx="1075" cy="541" r="24"/><text x="1075" y="541">04662</text></g>
<g id="n-04012" class="node"><circle class="b" cx="1307" cy="563" r="24"/><text x="1307" y="563">04012</text></g>
<g id="n-04520" class="node"><circle class="b" cx="1218" cy="571" r="24"/><text x="1218" y="571">04520</text></g>
<g id="n-04510" class="node"><circle class="b" cx="993" cy="581" r="24"/><text x="993" y="581">04510</text></g>
<g id="n-05220" class="node"><circle class="b" cx="1145" cy="596" r="24"/><text x="1145" y="596">05220</text></g>
<g id="n-04360" class="node"><circle class="b" cx="1357" cy="611" r="24"/><text x="1357" y="611">04360</text></g>
<g id="n-05145" class="node"><circle class="b" cx="1045" cy="634" r="24"/><text x="1045" y="634">05145</text></g>
<g id="n-05166" class="node"><circle class="b" cx="762" cy="639" r="24"/><text x="762" y="639">05166</text></g>
<g id="n-05214" class="node"><circle class="b" cx="1093" cy="674" r="24"/><text x="1093" y="674">05214</text></g>
<g id="n-05216" class="node"><circle class="b" cx="1380" cy="681" r="24"/><text x="1380" y="681">05216</text></g>
<g id="n-05218" class="node"><circle class="b" cx="907" cy="691" r="24"/><text x="907" y="691">05218</text></g>
<g id="n-04150" class="node"><circle class="b" cx="982" cy="696" r="24"/><text x="982" y="696">04150</text></g>
<g id="n-05213" class="node"><circle class="b" cx="745" cy="704" r="24"/><text x="745" y="704">05213</text></g>
<g id="n-05161" class="node"><circle class="b" cx="833" cy="704" r="24"/><text x="833" y="704">05161</text></g>
<g id="n-05200" class="node"><circle class="b" cx="1233" cy="711" r="24"/><text x="1233" y="711">05200</text></g>
<g id="n-04066" class="node"><circle class="b" cx="1143" cy="726" r="24"/><text x="1143" y="726">04066</text></g>
<g id="n-05212" class="node"><circle class="b" cx="1333" cy="726" r="24"/><text x="1333" y="726">05212</text></g>
<g id="n-04151" class="node"><circle class="b" cx="1037" cy="743" r="24"/><text x="1037" y="743">04151</text></g>
<g id="n-04916" class="node"><circle class="b" cx="817" cy="784" r="24"/><text x="817" y="784">04916</text></g>
<g id="n-05211" class="node"><circle class="b" cx="902" cy="783" r="24"/><text x="902" y="783">05211</text></g>
<g id="n-04110" class="node"><circle class="b" cx="1365" cy="804" r="24"/><text x="1365" y="804">04110</text></g>
<g id="n-04310" class="node"><circle class="b" cx="917" cy="848" r="24"/><text x="917" y="848">04310</text></g>
<g id="n-04210" class="node"><circle class="b" cx="1055" cy="888" r="24"/><text x="1055" y="888">04210</text></g>
<g id="n-05219" class="node"><circle class="b" cx="1208" cy="926" r="24"/><text x="1208" y="926">05219</text></g>
<g id="n-05223" class="node"><circle class="b" cx="1088" cy="943" r="24"/><text x="1088" y="943">05223</text></g>
<g id="n-05222" class="node"><circle class="b" cx="1025" cy="969" r="24"/><text x="1025" y="969">05222</text></g>
<g id="n-04512" class="node"><circle class="b" cx="943" cy="993" r="24"/><text x="943" y="993">04512</text></g>
<g id="n-04115" class="node"><circle class="b" cx="1208" cy="1083" r="24"/><text x="1208" y="1083">04115</text></g>
<g id="n-ADAM10" class="node"><circle class="g" cx="1573" cy="88" r="24"/><text x="1573" y="88">ADAM10</text></g>
<g id="n-BMPR1B" class="node"><circle class="g" cx="598" cy="95" r="24"/><text x="598" y="95">BMPR1B</text></g>
<g id="n-KCNQ1" class="node"><circle class="g" cx="1095" cy="45" r="24"/><text x="1095" y="45">KCNQ1</text></g>
<g id="n-SP1" class="node"><circle class="g" cx="759" cy="123" r="24"/><text x="759" y="123">SP1</text></g>
<g id="n-LYN" class="node"><circle class="g" cx="858" cy="125" r="24"/><text x="858" y="125">LYN</text></g>
<g id="n-NOTCH3" class="node"><circle class="g" cx="1725" cy="153" r="24"/><text x="1725" y="153">NOTCH3</text></g>
<g id="n-PFN1" class="node"><circle class="g" cx="1434" cy="163" r="24"/><text x="1434" y="163">PFN1</text></g>
<g id="n-BMPR2" class="node"><circle class="g" cx="538" cy="203" r="24"/><text x="538" y="203">BMPR2</text></g>
<g id="n-SMAD5" class="node"><circle class="g" cx="428" cy="265" r="24"/><text x="428" y="265">SMAD5</text></g>
<g id="n-CREB5" class="node"><circle class="g" cx="882" cy="262" r="24"/><text x="882" y="262">CREB5</text></g>
<g id="n-SHC1" class="node"><circle class="g" cx="1322" cy="275" r="24"/><text x="1322" y="275">SHC1</text></g>
<g id="n-PAK1" class="node"><circle class="g" cx="1455" cy="278" r="24"/><text x="1455" y="278">PAK1</text></g>
<g id="n-EIF4EBP1" class="node"><circle class="g" cx="1172" cy="317" r="24"/><text x="1172" y="317">EIF4EBP1</text></g>
<g id="n-PLCB3" class="node"><circle class="g" cx="870" cy="332" r="24"/><text x="870" y="332">PLCB3</text></g>
<g id="n-HTR2C" class="node"><circle class="g" cx="442" cy="340" r="24"/><text x="442" y="340">HTR2C</text></g>
<g id="n-APP" class="node"><circle class="g" cx="80" cy="347" r="24"/><text x="80" y="347">APP</text></g>
<g id="n-TGFBR1" class="node"><circle class="g" cx="1102" cy="353" r="24"/><text x="1102" y="353">TGFBR1</text></g>
<g id="n-GNAI3" class="node"><circle class="g" cx="938" cy="363" r="24"/><text x="938" y="363">GNAI3</text></g>
<g id="n-PTPRF" class="node"><circle class="g" cx="1222" cy="368" r="24"/><text x="1222" y="368">PTPRF</text></g>
<g id="n-APH1A" class="node"><circle class="g" cx="1860" cy="383" r="24"/><text x="1860" y="383">APH1A</text></g>
<g id="n-CDC42" class="node"><circle class="g" cx="1345" cy="385" r="24"/><text x="1345" y="385">CDC42</text></g>
<g id="n-EGFR" class="node"><circle class="g" cx="1008" cy="403" r="24"/><text x="1008" y="403">EGFR</text></g>
<g id="n-XIAP" class="node"><circle class="g" cx="1142" cy="407" r="24"/><text x="1142" y="407">XIAP</text></g>
<g id="n-PIP4K2C" class="node"><circle class="g" cx="675" cy="419" r="24"/><text x="675" y="419">PIP4K2C</text></g>
<g id="n-MAP2K1" class="node"><circle class="g" cx="938" cy="426" r="24"/><text x="938" y="426">MAP2K1</text></g>
<g id="n-EGLN3" class="node"><circle class="g" cx="1495" cy="429" r="24"/><text x="1495" y="429">EGLN3</text></g>
<g id="n-NRAS" class="node"><circle class="g" cx="1073" cy="432" r="24"/><text x="1073" y="432">NRAS</text></g>
<g id="n-IQGAP3" class="node"><circle class="g" cx="775" cy="433" r="24"/><text x="775" y="433">IQGAP3</text></g>
<g id="n-COL4A2" class="node"><circle class="g" cx="1355" cy="442" r="24"/><text x="1355" y="442">COL4A2</text></g>
<g id="n-EGR1" class="node"><circle class="g" cx="618" cy="476" r="24"/><text x="618" y="476">EGR1</text></g>
<g id="n-MAPK9" class="node"><circle class="g" cx="1118" cy="476" r="24"/><text x="1118" y="476">MAPK9</text></g>
<g id="n-TGFBR2" class="node"><circle class="g" cx="1012" cy="489" r="24"/><text x="1012" y="489">TGFBR2</text></g>
<g id="n-MET" class="node"><circle class="g" cx="1410" cy="496" r="24"/><text x="1410" y="496">MET</text></g>
<g id="n-MAPK1" class="node"><circle class="g" cx="1163" cy="528" r="24"/><text x="1163" y="528">MAPK1</text></g>
<g id="n-GRB2" class="node"><circle class="g" cx="966" cy="531" r="24"/><text x="966" y="531">GRB2</text></g>
<g id="n-FGF2" class="node"><circle class="g" cx="875" cy="544" r="24"/><text x="875" y="544">FGF2</text></g>
<g id="n-FLNA" class="node"><circle class="g" cx="1561" cy="549" r="24"/><text x="1561" y="549">FLNA</text></g>
<g id="n-MAP2K3" class="node"><circle class="g" cx="1427" cy="552" r="24"/><text x="1427" y="552">MAP2K3</text></g>
<g id="n-PPP2R5C" class="node"><circle class="g" cx="692" cy="574" r="24"/><text x="692" y="574">PPP2R5C</text></g>
<g id="n-GNB2" class="node"><circle class="g" cx="822" cy="578" r="24"/><text x="822" y="578">GNB2</text></g>
<g id="n-ITGA2" class="node"><circle class="g" cx="910" cy="599" r="24"/><text x="910" y="599">ITGA2</text></g>
<g id="n-L1CAM" class="node"><circle class="g" cx="1511" cy="604" r="24"/><text x="1511" y="604">L1CAM</text></g>
<g id="n-IKBKB" class="node"><circle class="g" cx="1263" cy="613" r="24"/><text x="1263" y="613">IKBKB</text></g>
<g id="n-IGF1R" class="node"><circle class="g" cx="835" cy="643" r="24"/><text x="835" y="643">IGF1R</text></g>
<g id="n-CTBP1" class="node"><circle class="g" cx="1177" cy="651" r="24"/><text x="1177" y="651">CTBP1</text></g>
<g id="n-HIF1A" class="node"><circle class="g" cx="1447" cy="648" r="24"/><text x="1447" y="648">HIF1A</text></g>
<g id="n-TUBB3" class="node"><circle class="g" cx="487" cy="651" r="24"/><text x="487" y="651">TUBB3</text></g>
<g id="n-GJA1" class="node"><circle class="g" cx="695" cy="653" r="24"/><text x="695" y="653">GJA1</text></g>
<g id="n-TIRAP" class="node"><circle class="g" cx="1611" cy="661" r="24"/><text x="1611" y="661">TIRAP</text></g>
<g id="n-EP300" class="node"><circle class="g" cx="1288" cy="668" r="24"/><text x="1288" y="668">EP300</text></g>
<g id="n-CDKN1A" class="node"><circle class="g" cx="1533" cy="671" r="24"/><text x="1533" y="671">CDKN1A</text></g>
<g id="n-KIF5B" class="node"><circle class="g" cx="570" cy="678" r="24"/><text x="570" y="678">KIF5B</text></g>
<g id="n-EPHB4" class="node"><circle class="g" cx="1671" cy="686" r="24"/><text x="1671" y="686">EPHB4</text></g>
<g id="n-PYGB" class="node"><circle class="g" cx="1566" cy="734" r="24"/><text x="1566" y="734">PYGB</text></g>
<g id="n-WNT5A" class="node"><circle class="g" cx="652" cy="741" r="24"/><text x="652" y="741">WNT5A</text></g>
<g id="n-CASP8" class="node"><circle class="g" cx="1272" cy="763" r="24"/><text x="1272" y="763">CASP8</text></g>
<g id="n-MAP3K12" class="node"><circle class="g" cx="1685" cy="768" r="24"/><text x="1685" y="768">MAP3K12</text></g>
<g id="n-ITGA8" class="node"><circle class="g" cx="1095" cy="771" r="24"/><text x="1095" y="771">ITGA8</text></g>
<g id="n-E2F3" class="node"><circle class="g" cx="977" cy="775" r="24"/><text x="977" y="775">E2F3</text></g>
<g id="n-MMP1" class="node"><circle class="g" cx="1445" cy="785" r="24"/><text x="1445" y="785">MMP1</text></g>
<g id="n-TP53INP1" class="node"><circle class="g" cx="487" cy="800" r="24"/><text x="487" y="800">TP53INP1</text></g>
<g id="n-DYNC1LI1" class="node"><circle class="g" cx="1526" cy="801" r="24"/><text x="1526" y="801">DYNC1LI1</text></g>
<g id="n-E2F1" class="node"><circle class="g" cx="1175" cy="808" r="24"/><text x="1175" y="808">E2F1</text></g>
<g id="n-GNAS" class="node"><circle class="g" cx="747" cy="809" r="24"/><text x="747" y="809">GNAS</text></g>
<g id="n-CCNE2" class="node"><circle class="g" cx="1043" cy="821" r="24"/><text x="1043" y="821">CCNE2</text></g>
<g id="n-JAK1" class="node"><circle class="g" cx="1268" cy="821" r="24"/><text x="1268" y="821">JAK1</text></g>
<g id="n-WASF2" class="node"><circle class="g" cx="1451" cy="844" r="24"/><text x="1451" y="844">WASF2</text></g>
<g id="n-PTEN" class="node"><circle class="g" cx="828" cy="848" r="24"/><text x="828" y="848">PTEN</text></g>
<g id="n-PPP2R5A" class="node"><circle class="g" cx="665" cy="864" r="24"/><text x="665" y="864">PPP2R5A</text></g>
<g id="n-BCL2" class="node"><circle class="g" cx="1282" cy="878" r="24"/><text x="1282" y="878">BCL2</text></g>
<g id="n-FOXC1" class="node"><circle class="g" cx="1440" cy="903" r="24"/><text x="1440" y="903">FOXC1</text></g>
<g id="n-EDN1" class="node"><circle class="g" cx="898" cy="909" r="24"/><text x="898" y="909">EDN1</text></g>
<g id="n-CDK6" class="node"><circle class="g" cx="985" cy="914" r="24"/><text x="985" y="914">CDK6</text></g>
<g id="n-ETS1" class="node"><circle class="g" cx="502" cy="944" r="24"/><text x="502" y="944">ETS1</text></g>
<g id="n-TPM3" class="node"><circle class="g" cx="1535" cy="941" r="24"/><text x="1535" y="941">TPM3</text></g>
<g id="n-CAPN1" class="node"><circle class="g" cx="1357" cy="954" r="24"/><text x="1357" y="954">CAPN1</text></g>
<g id="n-NRP1" class="node"><circle class="g" cx="1278" cy="961" r="24"/><text x="1278" y="961">NRP1</text></g>
<g id="n-HSPA1B" class="node"><circle class="g" cx="1440" cy="962" r="24"/><text x="1440" y="962">HSPA1B</text></g>
<g id="n-CCNB1" class="node"><circle class="g" cx="1162" cy="968" r="24"/><text x="1162" y="968">CCNB1</text></g>
<g id="n-THEM4" class="node"><circle class="g" cx="847" cy="969" r="24"/><text x="847" y="969">THEM4</text></g>
<g id="n-RALB" class="node"><circle class="g" cx="1353" cy="1016" r="24"/><text x="1353" y="1016">RALB</text></g>
<g id="n-YWHAQ" class="node"><circle class="g" cx="1262" cy="1024" r="24"/><text x="1262" y="1024">YWHAQ</text></g>
<g id="n-CSNK2A2" class="node"><circle class="g" cx="692" cy="1026" r="24"/><text x="692" y="1026">CSNK2A2</text></g>
<g id="n-VEGFA" class="node"><circle class="g" cx="1167" cy="1028" r="24"/><text x="1167" y="1028">VEGFA</text></g>
<g id="n-RBL2" class="node"><circle class="g" cx="1446" cy="1041" r="24"/><text x="1446" y="1041">RBL2</text></g>
<g id="n-TP53" class="node"><circle class="g" cx="1302" cy="1079" r="24"/><text x="1302" y="1079">TP53</text></g>
<g id="n-CUL2" class="node"><circle class="g" cx="907" cy="1098" r="24"/><text x="907" y="1098">CUL2</text></g>
<g id="n-MCM5" class="node"><circle class="g" cx="1382" cy="1119" r="24"/><text x="1382" y="1119">MCM5</text></g>
<g id="n-MCM3" class="node"><circle class="g" cx="1262" cy="1133" r="24"/><text x="1262" y="1133">MCM3</text></g>
<g id="n-CD44" class="node"><circle class="g" cx="672" cy="1136" r="24"/><text x="672" y="1136">CD44</text></g>
<g id="n-AGRN" class="node"><circle class="g" cx="1002" cy="1154" r="24"/><text x="1002" y="1154">AGRN</text></g>
<g id="n-WEE1" class="node"><circle class="g" cx="1581" cy="1208" r="24"/><text x="1581" y="1208">WEE1</text></g>
<g id="n-SERPINB5" class="node"><circle class="g" cx="1147" cy="1239" r="24"/><text x="1147" y="1239">SERPINB5</text></g>
<g id="n-SDC4" class="node"><circle class="g" cx="1000" cy="1251" r="24"/><text x="1000" y="1251">SDC4</text></g>
</g>
</svg>
